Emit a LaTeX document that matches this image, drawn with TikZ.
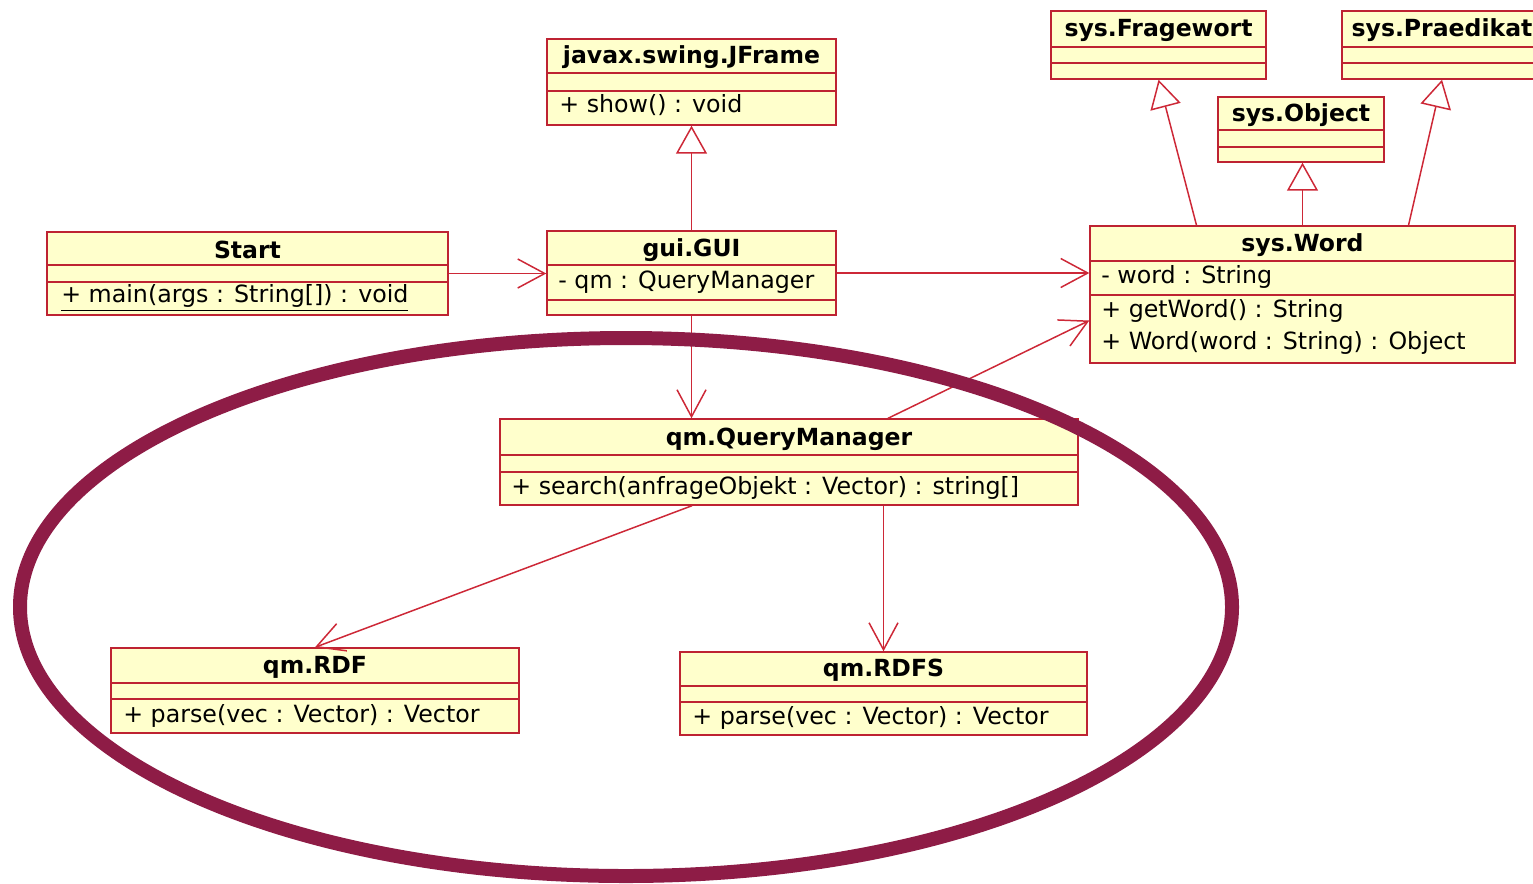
\documentclass[tikz,border=0pt]{standalone}
\usepackage{fontspec}
\setmainfont{DejaVu Sans}
\usetikzlibrary{arrows.meta,fit}
\def\px{0.02cm}
\def\classsep(#1)(#2){\draw[sep] (#1.west |- 0,#2) -- (#1.east |- 0,#2);}
\definecolor{umlfill}{RGB}{255,255,204}
\definecolor{umlline}{RGB}{190,35,50}
\definecolor{umlarrow}{RGB}{205,40,55}
\definecolor{ringcol}{RGB}{142,28,70}
\tikzset{
	classbox/.style={rectangle, draw=umlline, fill=umlfill, line width=0.8pt, inner sep=0pt},
	sep/.style={draw=umlline, line width=0.8pt},
	cname/.style={font=\fontsize{13.4pt}{16pt}\selectfont\bfseries, inner sep=0pt},
	member/.style={font=\fontsize{13.5pt}{16pt}\selectfont, inner sep=0pt, anchor=west},
	dep/.style={draw=umlarrow, line width=0.85pt, -{Straight Barb[length=0.54cm, width=0.58cm]}},
	inherit/.style={draw=umlarrow, line width=0.85pt, -{Triangle[open, length=0.56cm, width=0.62cm, fill=white]}},
	ring/.style={draw=ringcol, line width=0.28cm}
}

\begin{document}
\begin{tikzpicture}[x=0.02cm, y=-0.02cm]
			%%%%% START %%%%%
			\useasboundingbox (0,0) rectangle (1533,883);
			
			% top row
			\node[classbox, fit={(547,39) (836,125)}] (jframe) {};
			\classsep(jframe)(73)
			\classsep(jframe)(91)
			\node[cname] at (jframe.north |- 0,57) {javax.swing.JFrame};
			\node[member] at (559,105) {+ show() : void};
			
			\node[classbox, fit={(1051,11) (1266,79)}] (frage) {};
			\classsep(frage)(47)
			\classsep(frage)(63)
			\node[cname] at (frage.north |- 0,30) {sys.Fragewort};
			
			\node[classbox, fit={(1342,11) (1542,79)}] (praed) {};
			\classsep(praed)(47)
			\classsep(praed)(63)
			\node[cname] at (praed.north |- 0,30) {sys.Praedikat};
			
			\node[classbox, fit={(1218,97) (1384,162)}] (object) {};
			\classsep(object)(130)
			\classsep(object)(147)
			\node[cname] at (object.north |- 0,115) {sys.Object};
			
			% middle row
			\node[classbox, fit={(47,232) (448,315)}] (start) {};
			\classsep(start)(265)
			\classsep(start)(282)
			\node[cname] at (start.north |- 0,250) {Start};
			\node[member] at (61,298) {\underline{+ main(args : String[]) : void}};
			
			\node[classbox, fit={(547,231) (836,315)}] (gui) {};
			\classsep(gui)(265)
			\classsep(gui)(300)
			\node[cname] at (gui.north |- 0,250) {gui.GUI};
			\node[member] at (558,282) {- qm : QueryManager};
			
			\node[classbox, fit={(1090,226) (1515,363)}] (word) {};
			\classsep(word)(261)
			\classsep(word)(295)
			\node[cname] at (word.north |- 0,245) {sys.Word};
			\node[member] at (1101,277) {- word : String};
			\node[member] at (1101,311) {+ getWord() : String};
			\node[member] at (1101,343) {+ Word(word : String) : Object};
			
			% bottom rows
			\node[classbox, fit={(500,419) (1078,505)}] (qm) {};
			\classsep(qm)(455)
			\classsep(qm)(472)
			\node[cname] at (qm.north |- 0,439) {qm.QueryManager};
			\node[member] at (511,488) {+ search(anfrageObjekt : Vector) : string[]};
			
			\node[classbox, fit={(111,648) (519,733)}] (rdf) {};
			\classsep(rdf)(683)
			\classsep(rdf)(699)
			\node[cname] at (rdf.north |- 0,667) {qm.RDF};
			\node[member] at (123,716) {+ parse(vec : Vector) : Vector};
			
			\node[classbox, fit={(680,652) (1087,735)}] (rdfs) {};
			\classsep(rdfs)(686)
			\classsep(rdfs)(702)
			\node[cname] at (rdfs.north |- 0,670) {qm.RDFS};
			\node[member] at (692,718) {+ parse(vec : Vector) : Vector};
			
			% associations
			\draw[dep] (start.east) -- (start.east -| gui.west);
			\draw[dep] (gui.east) -- (gui.east -| word.west);
			\draw[dep] (gui.south) -- (gui.south |- qm.north);
			\draw[dep] ([xshift=99*\px]qm.north) -- ([yshift=-26*\px]word.west);
			\draw[dep] ([xshift=-97*\px]qm.south) -- (rdf.north);
			\draw[dep] (rdfs.north |- qm.south) -- (rdfs.north);
			
			% generalizations
			\draw[inherit] (gui.north) -- (jframe.south);
			\draw[inherit] ([xshift=-106*\px]word.north) -- (frage.south);
			\draw[inherit] (word.north) -- (word.north |- object.south);
			\draw[inherit] ([xshift=106*\px]word.north) -- (praed.south);
			
			% ring round the query part
			\draw[ring] (626,607) ellipse [x radius=606*\px, y radius=269*\px];
			
			%%%%% END %%%%%
\end{tikzpicture}
\end{document}
